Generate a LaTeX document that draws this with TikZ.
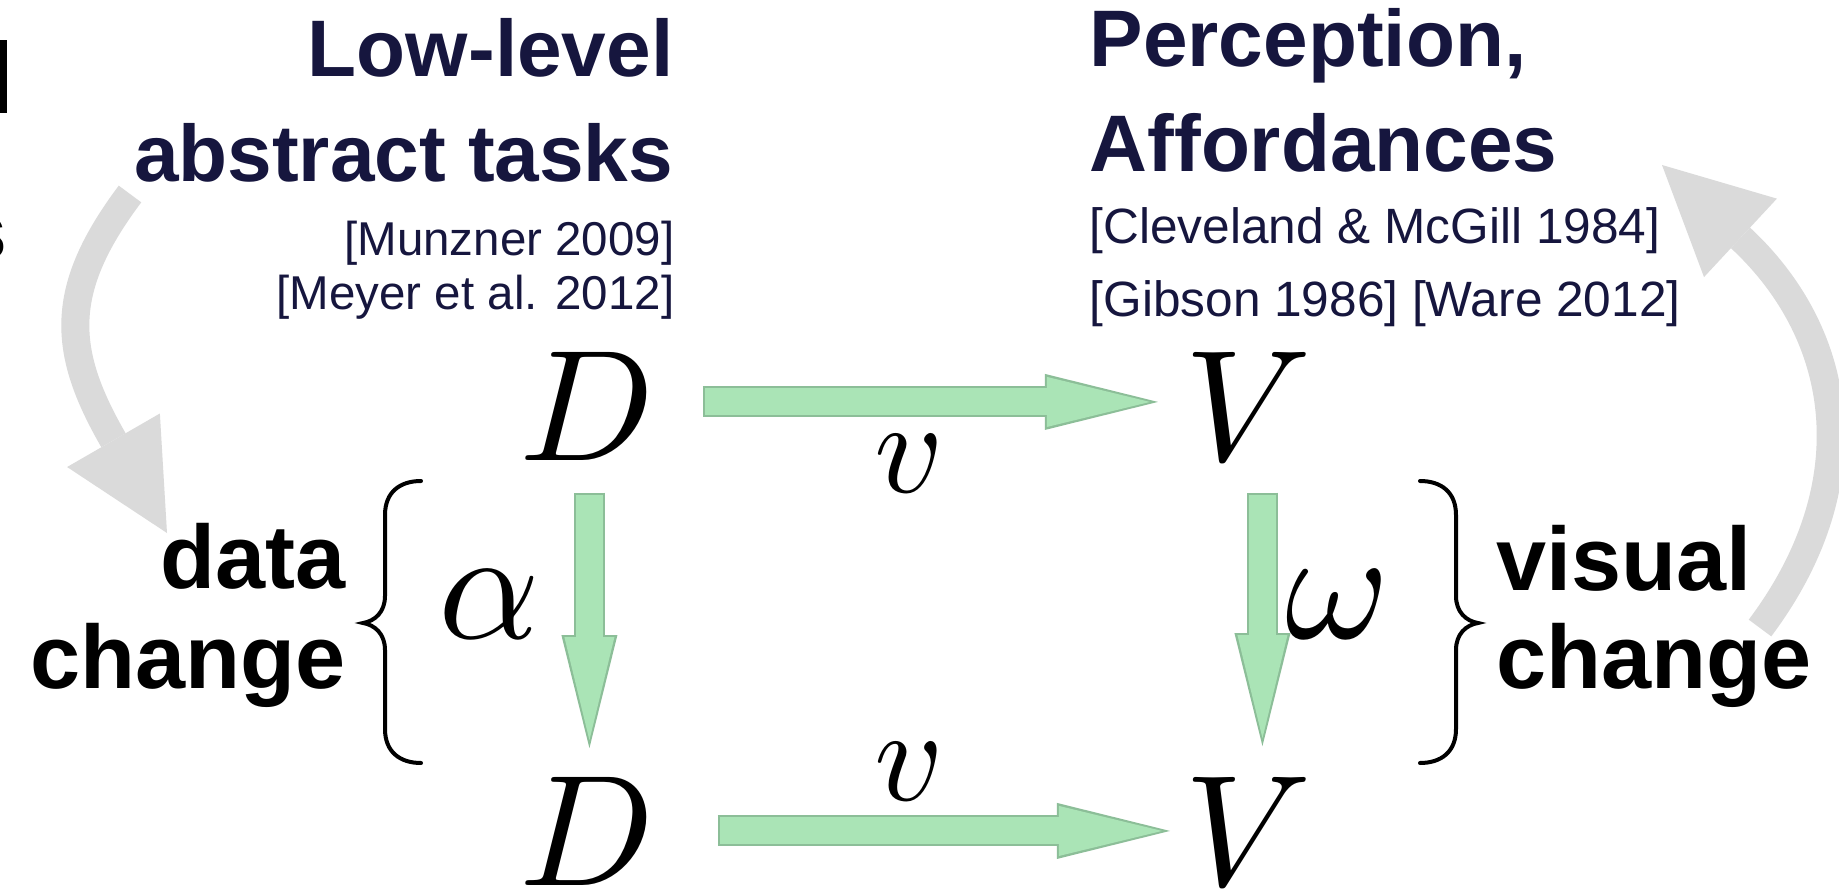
\documentclass[tikz,border=0pt]{standalone}
\usepackage{amsmath}
\usepackage{fontspec}
\newfontfamily\arialfont{Liberation Sans}
\usetikzlibrary{arrows.meta,calc}
% math italic at any size
\DeclareFontFamily{OML}{cmm}{\skewchar\font127}
\DeclareFontShape{OML}{cmm}{m}{it}{<->cmmi10}{}
\definecolor{headnavy}{RGB}{22,22,62}
\definecolor{flowgreen}{RGB}{170,228,182}
\definecolor{flowrim}{RGB}{140,190,152}
\definecolor{loopgray}{RGB}{218,218,218}

\begin{document}
\begin{tikzpicture}[x=0.01cm, y=-0.01cm,
    headtext/.style={font=\arialfont\bfseries\fontsize{22.8}{26}\selectfont, text=headnavy, inner sep=0pt},
    citeL/.style={font=\arialfont\fontsize{13.5}{16}\selectfont, text=headnavy, inner sep=0pt},
    citeR/.style={font=\arialfont\fontsize{14.1}{16}\selectfont, text=headnavy, inner sep=0pt},
    sidetext/.style={font=\arialfont\bfseries\fontsize{25.6}{30}\selectfont, inner sep=0pt},
    symtext/.style={font=\fontsize{45}{50}\selectfont, inner sep=0pt, anchor=base west},
    maptext/.style={font=\fontsize{38}{44}\selectfont, inner sep=0pt},
    greenflow/.style={draw=flowgreen, line width=0.27cm, shorten >=0.08cm, shorten <=0.02cm,
        -{Triangle[length=1.03cm, width=0.50cm, line width=0pt]},
        preaction={draw=flowrim, line width=0.31cm, shorten >=0pt, shorten <=0pt,
            -{Triangle[length=1.13cm, width=0.56cm, line width=0pt]}}},
    grayloop/.style={draw=loopgray, line width=0.28cm,
        -{Triangle[length=1.07cm, width=1.07cm, line width=0pt]}},
    bracestroke/.style={draw, line width=0.04cm, line cap=round}]
    \fill[white] (0,0) rectangle (1839,894);
    \useasboundingbox (0,0) rectangle (1839,894);
    % cut-off letters at the left edge
    \fill (0,40) rectangle (7,113);
    \begin{scope}
        \clip (0,200) rectangle (6,280);
        \node[headtext, text=black, anchor=base east] (sfrag) at (8,260) {s};
    \end{scope}
    % headings
    \node[headtext, anchor=base east] (lowlevel) at (674,77) {Low-level};
    \node[headtext, anchor=base east] (abstract) at (674,182) {abstract tasks};
    \node[citeL, anchor=base east] (munzner) at (675,255) {[Munzner 2009]};
    \node[citeL, anchor=base east] (meyer) at (675,309) {[Meyer et al. 2012]};
    \node[headtext, anchor=base west] (perception) at (1089,67) {Perception,};
    \node[headtext, anchor=base west] (affordances) at (1089,172) {Affordances};
    \node[citeR, anchor=base west] (cleveland) at (1089,244) {[Cleveland \& McGill 1984]};
    \node[citeR, anchor=base west] (gibson) at (1089,317) {[Gibson 1986] [Ware 2012]};
    % side labels
    \node[sidetext, anchor=base east] (data) at (346,588) {data};
    \node[sidetext, anchor=base east] (dchange) at (346,688) {change};
    \node[sidetext, anchor=base west] (visual) at (1496,590) {visual};
    \node[sidetext, anchor=base west] (vchange) at (1496,688) {change};
    % the square
    \node[symtext] (D1) at (519,460) {$D$};
    \node[symtext] (V1) at (1184,460) {$V$};
    \node[symtext] (D2) at (519,885) {$D$};
    \node[symtext] (V2) at (1184,885) {$V$};
    \node[maptext, font=\fontsize{45}{50}\selectfont] (alpha) at (489,604) {$\alpha$};
    \node[maptext, font=\fontsize{45}{50}\selectfont] (omega) at (1338,604) {$\omega$};
    \node[maptext] (vtop) at (909,464) {$v$};
    \node[maptext] (vbot) at (909,772) {$v$};
    \draw[greenflow] ([xshift=0.47cm, yshift=0.04cm]D1.east) -- ([xshift=-0.26cm, yshift=0.04cm]V1.west);
    \draw[greenflow] ([xshift=0.62cm]D2.east) -- ([xshift=-0.14cm]V2.west);
    \draw[greenflow] ([xshift=0.02cm, yshift=-0.32cm]D1.south) -- ([xshift=0.02cm, yshift=0.28cm]D2.north);
    \draw[greenflow] ([xshift=0.14cm, yshift=-0.32cm]V1.south) -- ([xshift=0.14cm, yshift=0.30cm]V2.north);
    % braces
    \path[bracestroke] (421,481) .. controls (400,481) and (385,492) .. (385,515) -- (385,596)
        .. controls (385,612) and (375,621) .. (363,623) .. controls (375,625) and (385,634) .. (385,650)
        -- (385,729) .. controls (385,752) and (400,763) .. (421,763);
    \path[bracestroke] (1420,481) .. controls (1441,481) and (1456,492) .. (1456,515) -- (1456,596)
        .. controls (1456,612) and (1466,621) .. (1478,623) .. controls (1466,625) and (1456,634) .. (1456,650)
        -- (1456,729) .. controls (1456,752) and (1441,763) .. (1420,763);
    % gray loops
    \coordinate (tailL) at (130,194);
    \coordinate (tipL) at (167,533);
    \draw[grayloop] (tailL) .. controls (58,290) and (62,351) .. (tipL);
    \coordinate (tailR) at (1760,628);
    \coordinate (tipR) at (1662,165);
    \draw[grayloop] (tailR) .. controls (1868,484) and (1845,335) .. (tipR);
\end{tikzpicture}
\end{document}
